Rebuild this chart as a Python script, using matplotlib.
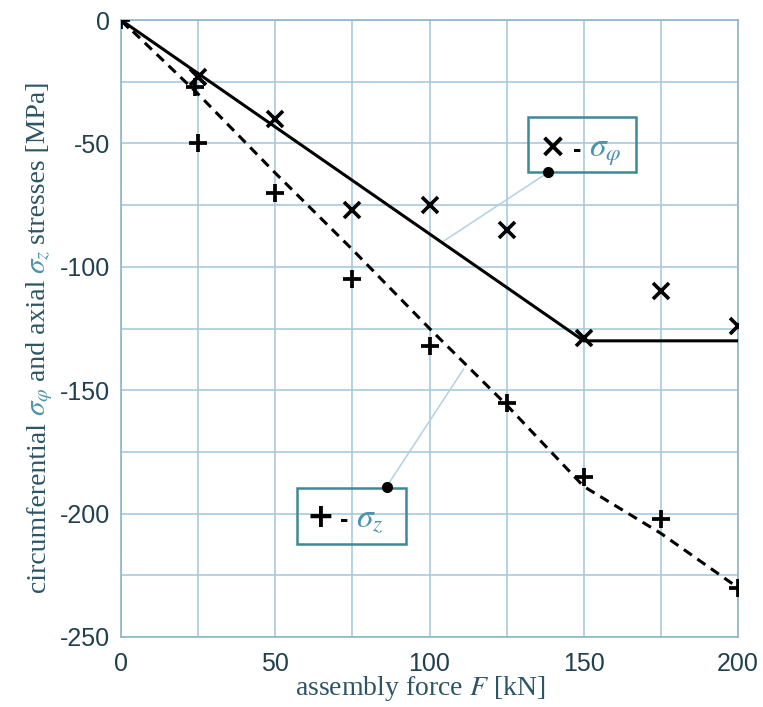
import matplotlib
matplotlib.use("Agg")
import matplotlib.pyplot as plt
from matplotlib.patches import Rectangle
from matplotlib.transforms import IdentityTransform

plt.rcParams['mathtext.fontset'] = 'stix'
plt.rcParams['axes.unicode_minus'] = False

# measured points (kN, MPa)
force = [0, 25, 50, 75, 100, 125, 150, 175, 200]
sigma_phi = [0, -23, -40, -77, -75, -85, -129, -110, -124]
force_z = [0, 24, 25, 50, 75, 100, 125, 150, 175, 200]
sigma_z = [0, -27, -50, -70, -105, -132, -155, -185, -202, -230]

# fitted lines
fit_phi_x = [0, 150, 200]
fit_phi_y = [0, -130, -130]
fit_z_x = [0, 25, 50, 75, 100, 125, 150, 175, 200]
fit_z_y = [0, -30, -62, -93, -125, -156, -189, -208, -230]

xticks = [0, 50, 100, 150, 200]
yticks = [0, -50, -100, -150, -200, -250]

W, H = 763, 707
tick_col = '#21404e'
lab_col = '#2c5566'
sig_col = '#4d93ab'
grid_col = '#a9c9dc'
box_col = '#3f8898'

fig = plt.figure(figsize=(W / 100, H / 100), dpi=100)
ax = fig.add_axes([121 / W, 1 - 637 / H, 617 / W, 617 / H])

ax.plot(fit_phi_x, fit_phi_y, '-', color='black', lw=2.2, zorder=3)
ax.plot(fit_z_x, fit_z_y, color='black', lw=2.2, dashes=(3.2, 2.2), zorder=3)
ax.plot(force, sigma_phi, 'x', color='black', ms=11.5, mew=2.6, zorder=4)
ax.plot(force_z, sigma_z, '+', color='black', ms=13, mew=2.7, zorder=4)

ax.set_xlim(0, 200)
ax.set_ylim(-250, 0)
ax.set_xticks(xticks)
ax.set_yticks(yticks)
ax.set_xticks(range(0, 201, 25), minor=True)
ax.set_yticks(range(-250, 1, 25), minor=True)
ax.grid(which='both', color=grid_col, lw=1.2)
ax.set_axisbelow(True)
ax.tick_params(which='both', length=0)
ax.tick_params(axis='x', pad=11)
ax.tick_params(axis='y', pad=8)
for lbl in ax.get_xticklabels() + ax.get_yticklabels():
    lbl.set_fontfamily('Liberation Sans')
    lbl.set_fontsize(18)
    lbl.set_color(tick_col)
for sp in ax.spines.values():
    sp.set_color('#8fb5c9')
    sp.set_linewidth(1.2)

# annotation boxes with leader lines
ax.add_patch(Rectangle((132, -61.7), 35, 22.4, fill=False, ec=box_col, lw=1.8, zorder=5))
ax.add_patch(Rectangle((57, -212.3), 35.4, 22.7, fill=False, ec=box_col, lw=1.8, zorder=5))
ax.plot([138.5, 104.7], [-61.7, -89.5], color='#b3d0e2', lw=1.1, zorder=2)
ax.plot([86.1, 111], [-189.1, -141.5], color='#b3d0e2', lw=1.1, zorder=2)
ax.plot([138.5, 86.1], [-61.7, -189.1], 'o', color='black', ms=7, zorder=6)

renderer = fig.canvas.get_renderer()


def chain(parts, x, y, rot=0):
    # x, y in image pixels (top-left origin), baseline start
    y = H - y
    for s, gap, props in parts:
        if rot == 90:
            y += gap
        else:
            x += gap
        t = fig.text(x, y, s, transform=IdentityTransform(), rotation=rot,
                     rotation_mode='anchor', ha='left', va='baseline', **props)
        bb = t.get_window_extent(renderer)
        if rot == 90:
            y += bb.height
        else:
            x += bb.width


serif = dict(family='Liberation Serif', fontsize=20, color=lab_col)
sig = dict(fontsize=21, color=sig_col)
chain([("circumferential", 0, serif),
       (r"$\sigma_\varphi$", 6, sig),
       ("and axial", 6, serif),
       (r"$\sigma_z$", 6, sig),
       ("stresses [MPa]", 6, serif)], 45, 592, rot=90)

fig.text(295 / W, 1 - 695 / H, "assembly force $F$ [kN]", family='Liberation Serif',
         fontsize=20, color=lab_col, ha='left', va='baseline')

mark = dict(family='DejaVu Sans', fontweight='bold', fontsize=24, color='black')
dash = dict(family='Liberation Sans', fontweight='bold', fontsize=18, color='black')
bsig = dict(fontsize=24, color=sig_col)
chain([("×", 0, mark), ("-", 6, dash), (r"$\sigma_\varphi$", 8, bsig)], 539, 157)
chain([("+", 0, mark), ("-", 6, dash), (r"$\sigma_z$", 8, bsig)], 306, 527)

fig.savefig("out.png", dpi=100, facecolor='white')
